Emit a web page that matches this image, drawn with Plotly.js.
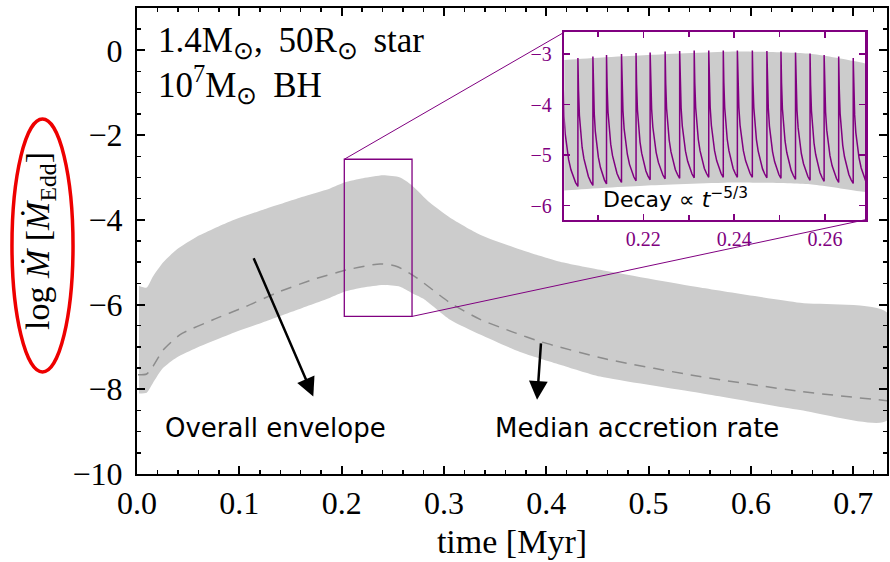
<!DOCTYPE html>
<html><head><meta charset="utf-8">
<script src="https://cdn.plot.ly/plotly-3.0.1.min.js"></script>
<style>html,body{margin:0;padding:0;background:#fff}#chart{width:890px;height:562px}</style>
</head><body><div id="chart"></div>
<script>
// ---- data ----
// upper edge of the grey envelope (time in Myr, log Mdot/Mdot_Edd)
const envTopT   = [0.002, 0.0095, 0.0156, 0.0254, 0.0388, 0.0584, 0.0909, 0.1232, 0.1561, 0.1887, 0.2026, 0.2209, 0.2405, 0.2571, 0.268, 0.2864, 0.306, 0.3353, 0.3744, 0.4135, 0.4526, 0.5503, 0.6481, 0.733];
const envTopLog = [-5.56, -5.6, -5.34, -5.01, -4.70, -4.40, -4.04, -3.76, -3.50, -3.26, -3.12, -3.02, -2.95, -3.0, -3.17, -3.6, -3.95, -4.35, -4.70, -4.99, -5.18, -5.6, -5.96, -6.19];
// lower edge of the grey envelope
const envBotT   = [0.002, 0.0095, 0.0156, 0.0254, 0.0388, 0.0584, 0.0909, 0.1232, 0.1561, 0.1887, 0.2026, 0.2209, 0.2405, 0.2571, 0.268, 0.2796, 0.306, 0.3353, 0.3744, 0.4135, 0.4526, 0.5503, 0.6481, 0.733];
const envBotLog = [-8.1, -8.08, -7.85, -7.5, -7.25, -7.02, -6.7, -6.42, -6.13, -5.84, -5.70, -5.6, -5.54, -5.58, -5.72, -5.86, -6.36, -6.71, -7.12, -7.42, -7.70, -8.09, -8.49, -8.74];
// median accretion rate (dashed)
const medianT   = [0.001, 0.0095, 0.0156, 0.0254, 0.0421, 0.0743, 0.107, 0.1398, 0.172, 0.2052, 0.2376, 0.254, 0.2734, 0.306, 0.3353, 0.3675, 0.3949, 0.4594, 0.5503, 0.6481, 0.733];
const medianLog = [-7.66, -7.64, -7.46, -7.08, -6.71, -6.36, -6.04, -5.69, -5.41, -5.18, -5.04, -5.10, -5.37, -5.96, -6.35, -6.65, -6.88, -7.29, -7.70, -8.05, -8.27];
// inset: flare times, peak and end-of-decay levels
const spikeT      = [0.2022, 0.2056, 0.2089, 0.2119, 0.2152, 0.2184, 0.2215, 0.2248, 0.2280, 0.2312, 0.2344, 0.2376, 0.2407, 0.2440, 0.2472, 0.2503, 0.2535, 0.2567, 0.2598, 0.2630, 0.2662, 0.2694];
const spikePeak   = [-3.1, -3.08, -3.05, -3.02, -3.0, -2.98, -2.97, -2.95, -2.94, -2.93, -2.93, -2.93, -2.93, -2.93, -2.94, -2.95, -2.97, -2.99, -3.02, -3.05, -3.08];
const spikeTrough = [-5.62, -5.6, -5.57, -5.54, -5.51, -5.49, -5.47, -5.46, -5.45, -5.44, -5.44, -5.44, -5.44, -5.45, -5.46, -5.48, -5.5, -5.52, -5.54, -5.56, -5.58];
// shape of one decay: fraction of the interval -> fraction of the drop
const decayFrac = [0, 0.04, 0.1, 0.18, 0.28, 0.4, 0.55, 0.7, 0.85, 1.0];
const decayDrop = [0, 0.25, 0.45, 0.59, 0.7, 0.79, 0.87, 0.93, 0.97, 1.0];
const xTickVals = [0, 0.1, 0.2, 0.3, 0.4, 0.5, 0.6, 0.7];
const yTickVals = [-10, -8, -6, -4, -2, 0];
const insetXTicks = [0.22, 0.24, 0.26];
const insetYTicks = [-6, -5, -4, -3];

// ---- layout constants ----
const PURPLE = '#800080';
const SERIF = 'Liberation Serif';
const SANS = 'DejaVu Sans';
const xRange = [0, 0.733], yRange = [-10, 1];
const insetXRange = [0.2026, 0.2688], insetYRange = [-6.28, -2.57];
const insetXDom = [0.5697, 0.9707], insetYDom = [0.5455, 0.948];

// envelope polygon
const bandX = envTopT.concat(envBotT.slice().reverse());
const bandY = envTopLog.concat(envBotLog.slice().reverse());

// flare sawtooth
const sx = [], sy = [];
for (let i = 0; i < spikePeak.length; i++) {
  const t0 = spikeT[i], t1 = spikeT[i + 1];
  if (i > 0) { sx.push(t0); sy.push(spikeTrough[i - 1]); }
  for (let k = 0; k < decayFrac.length; k++) {
    sx.push(t0 + decayFrac[k] * (t1 - t0));
    sy.push(spikePeak[i] + decayDrop[k] * (spikeTrough[i] - spikePeak[i]));
  }
}

const traces = [
  {x: bandX, y: bandY, type: 'scatter', mode: 'lines', fill: 'toself', fillcolor: '#cccccc', line: {width: 0, color: '#cccccc', shape: 'spline', smoothing: 0.6}, hoverinfo: 'skip', showlegend: false},
  {x: medianT, y: medianLog, type: 'scatter', mode: 'lines', line: {color: '#8c8c8c', width: 1.5, dash: '11px,8px', shape: 'spline', smoothing: 0.6}, showlegend: false},
  {x: bandX, y: bandY, xaxis: 'x2', yaxis: 'y2', type: 'scatter', mode: 'lines', fill: 'toself', fillcolor: '#cccccc', line: {width: 0, color: '#cccccc', shape: 'spline', smoothing: 0.6}, hoverinfo: 'skip', showlegend: false},
  {x: sx, y: sy, xaxis: 'x2', yaxis: 'y2', type: 'scatter', mode: 'lines', line: {color: PURPLE, width: 1.5}, showlegend: false}
];

// inset corners expressed in main-axis data coordinates
const pxToX = p => xRange[0] + p * (xRange[1] - xRange[0]);
const pyToY = p => yRange[0] + p * (yRange[1] - yRange[0]);

const shapes = [
  {type: 'rect', xref: 'x', yref: 'y', x0: insetXRange[0], x1: insetXRange[1], y0: insetYRange[0], y1: insetYRange[1], line: {color: PURPLE, width: 1.3}},
  {type: 'line', xref: 'x', yref: 'y', x0: insetXRange[0], y0: insetYRange[1], x1: pxToX(insetXDom[0]), y1: pyToY(insetYDom[1]), line: {color: PURPLE, width: 1}},
  {type: 'line', xref: 'x', yref: 'y', x0: insetXRange[1], y0: insetYRange[0], x1: pxToX(insetXDom[1]), y1: pyToY(insetYDom[0]), line: {color: PURPLE, width: 1}},
  {type: 'circle', xref: 'paper', yref: 'paper', x0: -0.1667, x1: -0.0853, y0: 0.2189, y1: 0.7618, line: {color: '#ee0000', width: 3.5}}
];

const annotations = [
  {xref: 'paper', yref: 'paper', x: 0.0253, y: 0.927, xanchor: 'left', yanchor: 'middle', align: 'left', showarrow: false,
   text: '1.4M<sub>\u2299</sub>,\u2009 50R<sub>\u2299</sub>\u2009 star', font: {family: SERIF, size: 35, color: '#000'}},
  {xref: 'paper', yref: 'paper', x: 0.0253, y: 0.835, xanchor: 'left', yanchor: 'middle', align: 'left', showarrow: false,
   text: '10<sup>7</sup>M<sub>\u2299</sub>\u2009 BH', font: {family: SERIF, size: 35, color: '#000'}},
  {xref: 'paper', yref: 'paper', x: 0.184, y: 0.0987, xanchor: 'center', yanchor: 'middle', showarrow: false,
   text: 'Overall envelope', font: {family: SANS, size: 26, color: '#000'}},
  {xref: 'paper', yref: 'paper', x: 0.6667, y: 0.0987, xanchor: 'center', yanchor: 'middle', showarrow: false,
   text: 'Median accretion rate', font: {family: SANS, size: 26, color: '#000'}},
  {xref: 'paper', yref: 'paper', x: 0.6187, y: 0.5923, xanchor: 'left', yanchor: 'middle', showarrow: false,
   text: 'Decay \u221d <i>t</i><sup>\u22125/3</sup>', font: {family: SANS, size: 22, color: '#000'}},
  {x: 0.1723, y: -8.17, ax: 0.1134, ay: -4.87, xref: 'x', yref: 'y', axref: 'x', ayref: 'y', text: '', showarrow: true,
   arrowhead: 2, arrowsize: 1.5, arrowwidth: 2.5, arrowcolor: '#000'},
  {x: 0.391, y: -8.25, ax: 0.3949, ay: -6.88, xref: 'x', yref: 'y', axref: 'x', ayref: 'y', text: '', showarrow: true,
   arrowhead: 2, arrowsize: 1.5, arrowwidth: 2.5, arrowcolor: '#000'}
];

const mainAxis = {
  ticks: 'inside', ticklen: 8, tickwidth: 2, tickcolor: '#000', showline: true, linewidth: 2, linecolor: '#000',
  mirror: 'allticks', showgrid: false, zeroline: false, automargin: false,
  tickfont: {family: SERIF, size: 32, color: '#000'}
};
const insetAxis = {
  ticks: 'inside', ticklen: 6, tickwidth: 1.5, tickcolor: PURPLE, showline: true, linewidth: 2.5, linecolor: PURPLE,
  mirror: 'allticks', showgrid: false, zeroline: false, automargin: false,
  tickfont: {family: SERIF, size: 20, color: PURPLE}
};

const layout = {
  width: 890, height: 562,
  margin: {l: 137, r: 3, t: 8, b: 88},
  font: {family: SERIF, color: '#000'},
  paper_bgcolor: '#fff', plot_bgcolor: '#fff',
  showlegend: false,
  xaxis: Object.assign({}, mainAxis, {range: xRange, tickvals: xTickVals, tickformat: '.1f',
    minor: {dtick: 0.02, tick0: 0, ticks: 'inside', ticklen: 4, tickwidth: 1.5, tickcolor: '#000', showgrid: false},
    title: {text: 'time [Myr]', font: {family: SERIF, size: 34, color: '#000'}, standoff: 9}}),
  yaxis: Object.assign({}, mainAxis, {range: yRange, tickvals: yTickVals, ticklabelstandoff: 6,
    minor: {dtick: 0.5, tick0: 0, ticks: 'inside', ticklen: 4, tickwidth: 1.5, tickcolor: '#000', showgrid: false},
    title: {text: 'log <i>\u1E40</i> [<i>\u1E40</i><sub>Edd</sub>]', font: {family: SERIF, size: 34, color: '#000'}, standoff: 13}}),
  xaxis2: Object.assign({}, insetAxis, {domain: insetXDom, anchor: 'y2', range: insetXRange, tickvals: insetXTicks, tickformat: '.2f',
    minor: {dtick: 0.01, tick0: 0, ticks: 'inside', ticklen: 5, tickwidth: 1.5, tickcolor: PURPLE, showgrid: false}}),
  yaxis2: Object.assign({}, insetAxis, {domain: insetYDom, anchor: 'x2', range: insetYRange, tickvals: insetYTicks, ticklabelstandoff: 6}),
  shapes: shapes,
  annotations: annotations
};

Plotly.newPlot('chart', traces, layout, {staticPlot: true, displayModeBar: false});
</script>
</body></html>
